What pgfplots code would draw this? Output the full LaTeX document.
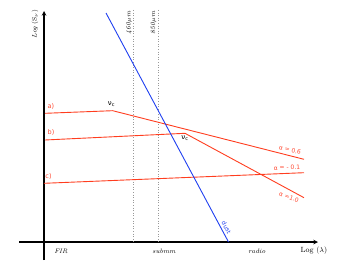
\documentclass[border=0pt]{standalone}
\usepackage{pgfplots}
\pgfplotsset{compat=1.18}
\usepackage{fontspec}
\setsansfont{DejaVu Sans}
\definecolor{lred}{HTML}{FF3D1F}
\definecolor{tred}{HTML}{FF4A33}
\definecolor{lblue}{HTML}{1F3FF0}
\begin{document}
\begin{tikzpicture}
\begin{axis}[
  width=350pt, height=263pt, scale only axis,
  xmin=0, xmax=350, ymin=0, ymax=263,
  axis lines=none, clip=false,
]
\addplot[draw=none] coordinates {(0,0) (350,263)};
% axes
\addplot[black, line width=1.1pt, -stealth] coordinates {(44,3) (44,252)};
\addplot[black, line width=1.1pt, -stealth] coordinates {(19,21) (318,21)};
% wavelength markers
\addplot[gray!80, dotted, line width=0.6pt] coordinates {(133,253) (133,21)};
\addplot[gray!80, dotted, line width=0.6pt] coordinates {(158.3,253) (158.3,21)};
% synchrotron spectra
\addplot[lred, line width=0.9pt] coordinates {(45,149.7) (112.7,152.3) (304,103.7)};
\addplot[lred, line width=0.9pt] coordinates {(45,123) (185,129.7) (304,65.3)};
\addplot[lred, line width=0.9pt] coordinates {(44,79.7) (304,90.3)};
% dust
\addplot[lblue, line width=0.9pt] coordinates {(106,250) (228.5,21)};
% labels
\node[rotate=90, font=\fontsize{6.5}{7}\selectfont] at (axis cs:35,239) {\textit{Log} (S$_\nu$)};
\node[font=\fontsize{7.5}{8}\selectfont] at (axis cs:314,12.5) {Log ($\lambda$)};
\node[font=\fontsize{6.5}{7}\selectfont\itshape] at (axis cs:61,12) {FIR};
\node[font=\fontsize{6.5}{7}\selectfont\itshape] at (axis cs:164,12) {submm};
\node[font=\fontsize{6.5}{7}\selectfont\itshape] at (axis cs:257,12) {radio};
\node[rotate=90, font=\fontsize{6.5}{7}\selectfont\itshape] at (axis cs:129,240) {460$\mu$m};
\node[rotate=90, font=\fontsize{6.5}{7}\selectfont\itshape] at (axis cs:153.5,240) {850$\mu$m};
\node[tred, font=\fontsize{6.5}{7}\sffamily] at (axis cs:51,157) {a)};
\node[tred, font=\fontsize{6.5}{7}\sffamily] at (axis cs:51,130.5) {b)};
\node[tred, font=\fontsize{6.5}{7}\sffamily] at (axis cs:48.5,87) {c)};
\node[font=\fontsize{7}{8}\sffamily] at (axis cs:111.5,158.5) {ν\textsubscript{c}};
\node[font=\fontsize{7}{8}\sffamily] at (axis cs:185,124.5) {ν\textsubscript{c}};
\node[tred, rotate=-14, font=\fontsize{6}{7}\sffamily] at (axis cs:290,113) {α = 0.6};
\node[tred, rotate=2, font=\fontsize{6}{7}\sffamily] at (axis cs:287,95.5) {α = - 0.1};
\node[tred, rotate=-22, font=\fontsize{6}{7}\sffamily] at (axis cs:289,66) {α =1.0};
\node[lblue, rotate=-62, font=\fontsize{6}{7}\sffamily] at (axis cs:226.5,35.5) {dust};
\end{axis}
\end{tikzpicture}
\end{document}
